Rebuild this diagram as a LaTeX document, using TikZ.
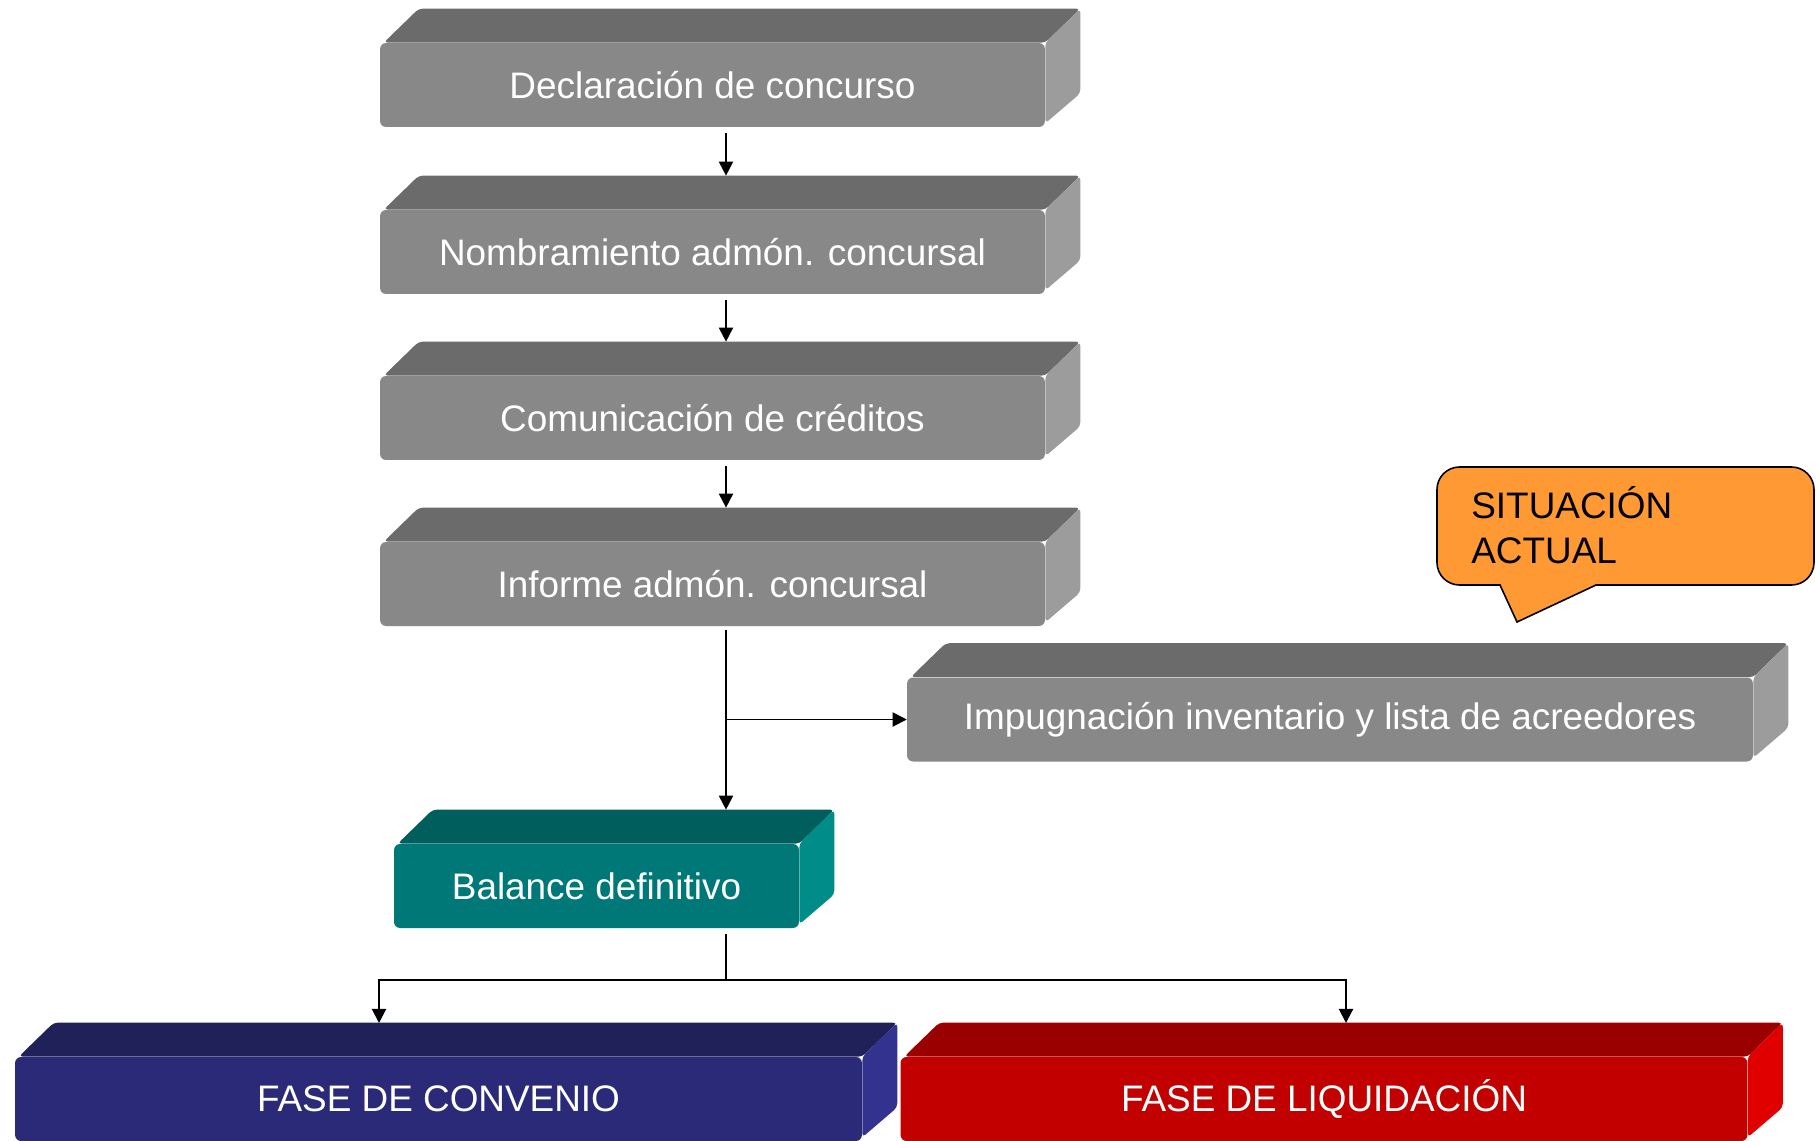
\documentclass[tikz,border=0pt]{standalone}
\usepackage{fontspec}
\setmainfont{Liberation Sans}
\usetikzlibrary{arrows.meta,positioning,calc,backgrounds}

\definecolor{grayfront}{HTML}{888888}
\definecolor{graytop}{HTML}{6B6B6B}
\definecolor{grayside}{HTML}{9C9C9C}
\definecolor{tealfront}{HTML}{007878}
\definecolor{tealtop}{HTML}{005F5C}
\definecolor{tealside}{HTML}{008C88}
\definecolor{navyfront}{HTML}{2A2A78}
\definecolor{navytop}{HTML}{21215A}
\definecolor{navyside}{HTML}{33338F}
\definecolor{redfront}{HTML}{C20000}
\definecolor{redtop}{HTML}{9A0000}
\definecolor{redside}{HTML}{E00000}
\definecolor{calloutfill}{HTML}{FF9933}

% top and side faces behind a box
\newcommand{\slab}[3]{%
  \begin{pgfonlayer}{background}
    \fill[#2, rounded corners=0.08cm] ($(#1.north west)+(4,0)$) -- ++(35,-34) -- ($(#1.north east)+(35,-34)$) -- (#1.north east) -- cycle;
    \fill[#3, rounded corners=0.08cm] (#1.north east) -- ++(35,-34) -- ($(#1.south east)+(35,-34)$) -- ($(#1.south east)+(0,-4)$) -- cycle;
  \end{pgfonlayer}
  \coordinate (#1 back) at ($(#1.north)+(35,-34)$);
}

\begin{document}
\begin{tikzpicture}[x=0.02cm, y=-0.02cm]
\tikzstyle{stage} = [rectangle, rounded corners=0.12cm, fill=grayfront, text=white, inner sep=0pt, minimum width=13.3cm, minimum height=1.68cm, font=\fontsize{21}{25.6}\selectfont]
\tikzstyle{link} = [-{Triangle[length=8pt,width=8pt]}, line width=1.1pt]

\useasboundingbox (0,0) rectangle (1816,1140);

\node[stage] (decl) at (712.5,85) {Declaración de concurso};
\node[stage] (nomb) at (712.5,252) {Nombramiento admón. concursal};
\node[stage] (comun) at (712.5,418) {Comunicación de créditos};
\node[stage] (inf) at (712.5,584) {Informe admón. concursal};
\node[stage, minimum width=16.92cm] (impug) at (1330,719.5) {Impugnación inventario y lista de acreedores};
\node[stage, fill=tealfront, minimum width=8.1cm] (bal) at (596.5,886) {Balance definitivo};
\node[stage, fill=navyfront, minimum width=16.94cm] (conv) at (438.5,1099) {FASE DE CONVENIO};
\node[stage, fill=redfront, minimum width=16.94cm] (liq) at (1324,1099) {FASE DE LIQUIDACIÓN};

\slab{decl}{graytop}{grayside}
\slab{nomb}{graytop}{grayside}
\slab{comun}{graytop}{grayside}
\slab{inf}{graytop}{grayside}
\slab{impug}{graytop}{grayside}
\slab{bal}{tealtop}{tealside}
\slab{conv}{navytop}{navyside}
\slab{liq}{redtop}{redside}

% callout
\draw[fill=calloutfill, line width=0.9pt] (1517,622) -- (1596,585) [rounded corners=0.45cm] -- (1814,585) -- (1814,467) -- (1437,467) -- (1437,585) [sharp corners] -- (1500,585) -- cycle;
\node[anchor=base west, align=left, inner sep=0pt, font=\fontsize{21}{25.6}\selectfont] (sit) at (1471,563) {SITUACIÓN\\ACTUAL};

% connectors
\coordinate (spine) at (726,0);
\coordinate (split) at (726,980);
\coordinate (convin) at (379,1023);
\coordinate (liqin) at (1346,1023);

\draw[link] ($(decl.south -| spine)+(0,6)$) -- (nomb back -| spine);
\draw[link] ($(nomb.south -| spine)+(0,6)$) -- (comun back -| spine);
\draw[link] ($(comun.south -| spine)+(0,6)$) -- (inf back -| spine);
\draw[link] ($(inf.south -| spine)+(0,4)$) -- (bal back -| spine);
\draw[link] (impug.west -| spine) -- (impug.west);
\draw[line width=1.1pt] ($(bal.south -| spine)+(0,6)$) -- (split);
\draw[link] (split) -| (convin);
\draw[link] (split) -| (liqin);
\end{tikzpicture}
\end{document}
